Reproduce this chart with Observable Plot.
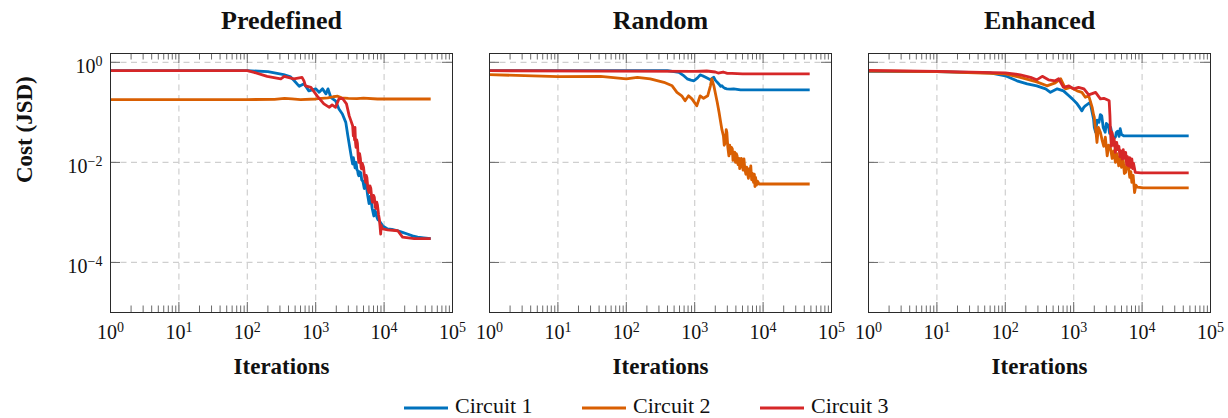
<!DOCTYPE html>
<html>
<head>
<meta charset="utf-8">
<script src="https://cdn.jsdelivr.net/npm/d3@7"></script>
<script src="https://cdn.jsdelivr.net/npm/@observablehq/plot@0.6"></script>
<style>
  body { margin: 0; background: #fff; }
  #chart { position: relative; width: 1228px; height: 418px; font-family: "Liberation Serif", "Times New Roman", Times, "DejaVu Serif", serif; }
  #chart > svg { position: absolute; top: 0; }
  #chart text { font-family: "Liberation Serif", "Times New Roman", Times, "DejaVu Serif", serif; }
</style>
</head>
<body>
<div id="chart"></div>
<script>
// ---- labels ----
const panelTitles = ["Predefined", "Random", "Enhanced"];
const circuitNames = ["Circuit 1", "Circuit 2", "Circuit 3"];
const circuitColors = ["#0072bd", "#d95f02", "#d62728"];
const xLabel = "Iterations";
const yLabel = "Cost (JSD)";

// ---- tick values ----
const xMajorTicks = [1, 10, 100, 1000, 10000, 100000];
const xMinorTicks = [2,3,4,5,6,7,8,9, 20,30,40,50,60,70,80,90, 200,300,400,500,600,700,800,900,
  2000,3000,4000,5000,6000,7000,8000,9000, 20000,30000,40000,50000,60000,70000,80000,90000];
const yMajorTicks = [1, 0.01, 0.0001];

// ---- cost curves: [iteration, cost] ----
const predefinedCircuit1 = [[1,0.68],[100,0.68],[200,0.65],[340,0.567],[430,0.51],[479,0.437],[575,0.331],[676,0.372],[794,0.269],[1000,0.295],[1122,0.251],[1259,0.295],[1413,0.234],[1514,0.295],[1660,0.2],[1950,0.17],[2188,0.117],[2455,0.093],[2754,0.063],[2951,0.034],[3236,0.0158],[3350,0.012],[3467,0.0093],[3550,0.0125],[3630,0.0105],[3760,0.0078],[3890,0.01],[4000,0.0072],[4100,0.0068],[4180,0.0058],[4266,0.0054],[4400,0.0065],[4570,0.0062],[4700,0.0045],[4900,0.0042],[5000,0.0036],[5129,0.003],[5300,0.0038],[5500,0.0035],[5750,0.0022],[6026,0.0015],[6200,0.0021],[6400,0.0019],[6700,0.0012],[7079,0.00085],[7300,0.0011],[7600,0.001],[7850,0.0008],[8100,0.00072],[8511,0.00068],[9550,0.00054],[11220,0.00047],[13000,0.00046],[15849,0.00043],[18600,0.0004],[21878,0.00037],[26000,0.00034],[30903,0.00032],[38000,0.00031],[48000,0.0003]];
const predefinedCircuit2 = [[1,0.18],[100,0.18],[250,0.182],[350,0.19],[450,0.186],[600,0.18],[1000,0.185],[1500,0.195],[1800,0.205],[2100,0.21],[2400,0.195],[3000,0.19],[4000,0.188],[5000,0.192],[8000,0.185],[48000,0.185]];
const predefinedCircuit3 = [[1,0.682],[100,0.682],[126,0.63],[195,0.525],[309,0.468],[347,0.525],[479,0.468],[631,0.501],[676,0.42],[708,0.339],[851,0.316],[1047,0.214],[1318,0.148],[1585,0.126],[1738,0.141],[1950,0.126],[2188,0.186],[2455,0.191],[2818,0.148],[3090,0.085],[3250,0.07],[3467,0.054],[3550,0.034],[3631,0.04],[3700,0.028],[3750,0.05],[3820,0.025],[3890,0.02],[3980,0.028],[4074,0.024],[4170,0.014],[4266,0.01],[4380,0.015],[4500,0.012],[4600,0.008],[4677,0.0074],[4800,0.0095],[5000,0.008],[5200,0.005],[5370,0.004],[5480,0.0055],[5600,0.005],[5800,0.003],[6026,0.0025],[6200,0.0034],[6400,0.003],[6600,0.0019],[6761,0.0016],[7000,0.0022],[7200,0.002],[7400,0.0013],[7586,0.0012],[7800,0.0016],[8000,0.0014],[8300,0.0009],[8511,0.00074],[8700,0.00055],[8913,0.00037],[9050,0.00055],[9200,0.0005],[9550,0.00047],[11220,0.00045],[15849,0.00043],[18621,0.00032],[27542,0.0003],[48000,0.0003]];

const randomCircuit1 = [[1,0.68],[400,0.68],[589,0.63],[680,0.55],[776,0.468],[880,0.44],[977,0.427],[1100,0.49],[1202,0.562],[1300,0.54],[1445,0.501],[1698,0.447],[1800,0.48],[1905,0.501],[2000,0.44],[2138,0.398],[2250,0.37],[2399,0.331],[2500,0.34],[2630,0.316],[2800,0.3],[2951,0.295],[3300,0.29],[3715,0.295],[4677,0.282],[48000,0.282]];
const randomCircuit2 = [[1,0.567],[10,0.518],[42,0.525],[100,0.468],[145,0.501],[224,0.468],[355,0.398],[468,0.339],[550,0.251],[646,0.214],[724,0.17],[813,0.214],[912,0.186],[1072,0.135],[1202,0.214],[1349,0.191],[1549,0.214],[1698,0.339],[1778,0.468],[1905,0.339],[2138,0.158],[2270,0.1],[2399,0.063],[2500,0.045],[2630,0.034],[2700,0.022],[2818,0.025],[2890,0.045],[2951,0.04],[3050,0.02],[3162,0.0135],[3250,0.022],[3350,0.015],[3450,0.02],[3548,0.0186],[3630,0.011],[3715,0.0117],[3850,0.016],[3950,0.01],[4050,0.015],[4169,0.0135],[4300,0.009],[4450,0.012],[4550,0.0075],[4677,0.0085],[4800,0.012],[4950,0.0095],[5100,0.007],[5248,0.0117],[5400,0.0075],[5600,0.0058],[5750,0.008],[5888,0.0063],[6100,0.0048],[6300,0.0075],[6450,0.0055],[6607,0.0085],[6800,0.0045],[7000,0.006],[7244,0.004],[7450,0.0058],[7600,0.0033],[7762,0.005],[8000,0.0035],[8300,0.0042],[8710,0.0037],[10233,0.0037],[48000,0.0037]];
const randomCircuit3 = [[1,0.68],[1000,0.66],[1500,0.67],[2000,0.64],[2200,0.61],[2600,0.64],[3000,0.6],[3500,0.6],[5000,0.585],[48000,0.585]];

const enhancedCircuit1 = [[1,0.66],[10,0.65],[60,0.617],[100,0.537],[148,0.427],[209,0.372],[288,0.339],[389,0.295],[457,0.251],[575,0.295],[708,0.269],[851,0.214],[955,0.186],[1122,0.148],[1250,0.12],[1318,0.107],[1400,0.125],[1479,0.135],[1738,0.158],[1950,0.074],[2000,0.05],[2089,0.04],[2200,0.07],[2344,0.063],[2450,0.09],[2570,0.085],[2700,0.05],[2884,0.04],[3000,0.06],[3200,0.055],[3350,0.038],[3467,0.05],[3650,0.036],[3800,0.03],[4074,0.032],[4200,0.04],[4400,0.042],[4600,0.033],[4786,0.047],[5000,0.036],[5370,0.034],[6761,0.034],[48000,0.034]];
const enhancedCircuit2 = [[1,0.67],[10,0.65],[100,0.589],[166,0.501],[288,0.407],[407,0.339],[537,0.389],[646,0.468],[759,0.295],[891,0.316],[1122,0.269],[1318,0.251],[1479,0.2],[1660,0.214],[1862,0.126],[1950,0.09],[2000,0.08],[2050,0.055],[2089,0.047],[2140,0.035],[2188,0.025],[2300,0.05],[2455,0.04],[2600,0.028],[2754,0.021],[2900,0.032],[3090,0.0135],[3250,0.022],[3467,0.0186],[3650,0.012],[3850,0.017],[4074,0.01],[4300,0.015],[4550,0.0085],[4786,0.0135],[5000,0.008],[5300,0.011],[5500,0.006],[5754,0.0063],[6000,0.0095],[6310,0.0085],[6600,0.005],[6850,0.0065],[7079,0.004],[7400,0.0055],[7762,0.0025],[8100,0.0035],[8511,0.0032],[10471,0.0031],[48000,0.0031]];
const enhancedCircuit3 = [[1,0.69],[10,0.66],[100,0.617],[166,0.562],[234,0.501],[288,0.447],[347,0.525],[427,0.447],[537,0.427],[603,0.468],[708,0.316],[851,0.339],[1000,0.295],[1175,0.316],[1413,0.295],[1660,0.224],[2089,0.251],[2455,0.186],[2754,0.191],[3090,0.178],[3300,0.17],[3388,0.085],[3450,0.04],[3548,0.021],[3620,0.04],[3715,0.034],[3800,0.022],[3900,0.03],[4074,0.0158],[4250,0.025],[4400,0.018],[4571,0.021],[4750,0.013],[4900,0.017],[5129,0.0117],[5300,0.018],[5500,0.012],[5754,0.0158],[5950,0.009],[6100,0.013],[6310,0.0085],[6600,0.0125],[6850,0.008],[7079,0.0117],[7300,0.0075],[7500,0.0095],[7943,0.0063],[9550,0.0062],[48000,0.0062]];

const panels = [
  {title: panelTitles[0], series: [predefinedCircuit1, predefinedCircuit2, predefinedCircuit3]},
  {title: panelTitles[1], series: [randomCircuit1, randomCircuit2, randomCircuit3]},
  {title: panelTitles[2], series: [enhancedCircuit1, enhancedCircuit2, enhancedCircuit3]}
];

// ---- layout ----
const serifStack = "'Liberation Serif', 'Times New Roman', Times, 'DejaVu Serif', serif";
const svgHeight = 380;
const marginTop = 53, marginBottom = 68;
const frameW = 342, frameH = svgHeight - marginTop - marginBottom;
const slots = [
  {left: 0, width: 470, marginLeft: 110},
  {left: 470, width: 379, marginLeft: 19},
  {left: 849, width: 379, marginLeft: 19}
];
const majorLen = 10, minorLen = 6.5;
const tickColor = "#6a6a6a";
const gridStyle = {stroke: "#cfcfcf", strokeOpacity: 1, strokeWidth: 1.2, strokeDasharray: "6,4.5"};

const fmtPow = d => {
  const e = Math.round(Math.log10(d));
  return "10^" + String(e).replace("-", "\u2212");
};

// turn "10^k" tick texts into a base and a raised exponent
function superscriptLabels(svg, supSize, rise) {
  d3.select(svg).selectAll("text").each(function() {
    const m = /^10\^(.+)$/.exec(this.textContent);
    if (!m) return;
    const t = d3.select(this);
    t.text(null);
    t.append("tspan").text("10");
    t.append("tspan").attr("dy", -rise).attr("font-size", supSize).text(m[1]);
  });
}

const chart = document.getElementById("chart");

panels.forEach((p, i) => {
  const slot = slots[i];
  const rows = [];
  p.series.forEach((points, k) => {
    points.forEach(([iter, cost]) => rows.push({circuit: circuitNames[k], iter, cost}));
  });
  const marks = [
    Plot.gridX(xMajorTicks.slice(1, -1), gridStyle),
    Plot.gridY(yMajorTicks, gridStyle),
    // bottom and top x ticks, drawn inside the frame
    Plot.tickX(xMinorTicks, {x: d => d, insetTop: frameH - minorLen, stroke: tickColor}),
    Plot.tickX(xMinorTicks, {x: d => d, insetBottom: frameH - minorLen, stroke: tickColor}),
    Plot.tickX(xMajorTicks, {x: d => d, insetTop: frameH - majorLen, stroke: tickColor}),
    Plot.tickX(xMajorTicks, {x: d => d, insetBottom: frameH - majorLen, stroke: tickColor}),
    // left and right y ticks
    Plot.tickY(yMajorTicks, {y: d => d, insetRight: frameW - majorLen, stroke: tickColor}),
    Plot.tickY(yMajorTicks, {y: d => d, insetLeft: frameW - majorLen, stroke: tickColor}),
    Plot.line(rows, {x: "iter", y: "cost", z: "circuit", stroke: "circuit", strokeWidth: 2.8, strokeLinejoin: "round", strokeLinecap: "butt"}),
    Plot.frame({stroke: "#2a2a2a", strokeWidth: 1}),
    Plot.axisX(xMajorTicks, {tickSize: 0, tickPadding: 12, tickFormat: fmtPow, fontSize: 20, label: null}),
    Plot.text([p.title], {text: d => d, frameAnchor: "top", dy: -25, lineAnchor: "bottom", fontSize: 26, fontWeight: "bold"}),
    Plot.text([xLabel], {text: d => d, frameAnchor: "bottom", dy: 61, lineAnchor: "bottom", fontSize: 23, fontWeight: "bold"})
  ];
  if (i === 0) {
    marks.push(Plot.axisY(yMajorTicks, {tickSize: 0, tickPadding: 8, dy: 4, tickFormat: fmtPow, fontSize: 20, label: null}));
    marks.push(Plot.text([yLabel], {text: d => d, frameAnchor: "left", dx: -79, rotate: -90, lineAnchor: "bottom", fontSize: 23, fontWeight: "bold"}));
  }
  const svg = Plot.plot({
    width: slot.width,
    height: svgHeight,
    marginLeft: slot.marginLeft,
    marginRight: slot.width - slot.marginLeft - frameW,
    marginTop, marginBottom,
    style: {background: "transparent", overflow: "visible", fontFamily: serifStack, color: "#111"},
    x: {type: "log", domain: [1, 100000], axis: null, label: null},
    y: {type: "log", domain: [1e-5, 1.5], axis: null, label: null},
    color: {domain: circuitNames, range: circuitColors},
    marks
  });
  superscriptLabels(svg, 14, 7);
  svg.style.left = slot.left + "px";
  chart.appendChild(svg);
});

// ---- legend below the panels ----
const legendX = [404, 582, 760];
const legend = d3.select(chart).append("svg")
  .attr("width", 1228).attr("height", 38)
  .style("position", "absolute").style("left", "0px").style("top", svgHeight + "px")
  .style("overflow", "visible");
circuitNames.forEach((name, k) => {
  legend.append("line")
    .attr("x1", legendX[k]).attr("x2", legendX[k] + 44)
    .attr("y1", 28).attr("y2", 28)
    .attr("stroke", circuitColors[k]).attr("stroke-width", 3);
  legend.append("text")
    .attr("x", legendX[k] + 51).attr("y", 33)
    .attr("font-size", 22).attr("fill", "#111")
    .style("font-family", serifStack)
    .text(name);
});
</script>
</body>
</html>
